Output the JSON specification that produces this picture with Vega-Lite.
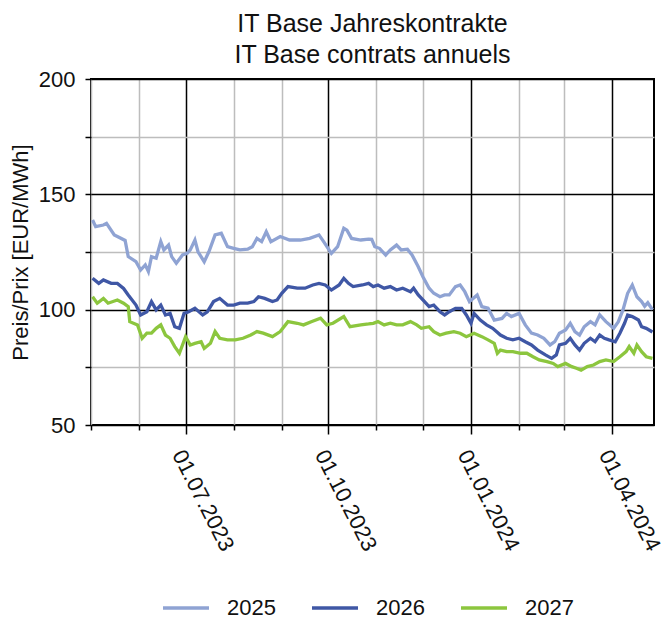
{
 "$schema": "https://vega.github.io/schema/vega-lite/v6.json",
 "width": 563,
 "height": 346,
 "autosize": {"type": "none"},
 "padding": {"left": 91, "top": 79, "right": 12, "bottom": 196},
 "title": {"text": ["IT Base Jahreskontrakte", "IT Base contrats annuels"], "fontSize": 25, "fontWeight": "normal", "font": "Liberation Sans", "color": "#111", "anchor": "middle", "frame": "group", "lineHeight": 31, "offset": 0},
 "data": {"values": [
  {"d":"2023-05-02","s":"2025","v":138.9},{"d":"2023-05-04","s":"2025","v":136.0},{"d":"2023-05-09","s":"2025","v":136.7},{"d":"2023-05-11","s":"2025","v":137.4},{"d":"2023-05-16","s":"2025","v":132.4},{"d":"2023-05-18","s":"2025","v":131.7},{"d":"2023-05-23","s":"2025","v":130.0},{"d":"2023-05-25","s":"2025","v":123.0},{"d":"2023-05-30","s":"2025","v":120.8},{"d":"2023-06-02","s":"2025","v":117.2},{"d":"2023-06-05","s":"2025","v":119.4},{"d":"2023-06-07","s":"2025","v":116.5},{"d":"2023-06-09","s":"2025","v":123.0},{"d":"2023-06-12","s":"2025","v":122.3},{"d":"2023-06-15","s":"2025","v":129.5},{"d":"2023-06-17","s":"2025","v":125.9},{"d":"2023-06-20","s":"2025","v":128.0},{"d":"2023-06-22","s":"2025","v":123.0},{"d":"2023-06-25","s":"2025","v":120.1},{"d":"2023-06-29","s":"2025","v":123.7},{"d":"2023-07-02","s":"2025","v":124.4},{"d":"2023-07-04","s":"2025","v":125.9},{"d":"2023-07-07","s":"2025","v":130.2},{"d":"2023-07-09","s":"2025","v":125.1},{"d":"2023-07-13","s":"2025","v":120.8},{"d":"2023-07-16","s":"2025","v":125.1},{"d":"2023-07-20","s":"2025","v":132.4},{"d":"2023-07-24","s":"2025","v":133.1},{"d":"2023-07-28","s":"2025","v":127.3},{"d":"2023-08-01","s":"2025","v":126.6},{"d":"2023-08-05","s":"2025","v":125.9},{"d":"2023-08-10","s":"2025","v":126.2},{"d":"2023-08-13","s":"2025","v":127.3},{"d":"2023-08-16","s":"2025","v":130.9},{"d":"2023-08-19","s":"2025","v":129.5},{"d":"2023-08-22","s":"2025","v":133.8},{"d":"2023-08-25","s":"2025","v":129.5},{"d":"2023-08-31","s":"2025","v":131.7},{"d":"2023-09-06","s":"2025","v":130.2},{"d":"2023-09-13","s":"2025","v":130.2},{"d":"2023-09-19","s":"2025","v":130.9},{"d":"2023-09-25","s":"2025","v":132.4},{"d":"2023-09-28","s":"2025","v":129.5},{"d":"2023-10-03","s":"2025","v":124.4},{"d":"2023-10-07","s":"2025","v":127.3},{"d":"2023-10-11","s":"2025","v":135.3},{"d":"2023-10-13","s":"2025","v":134.5},{"d":"2023-10-16","s":"2025","v":130.9},{"d":"2023-10-22","s":"2025","v":130.2},{"d":"2023-10-27","s":"2025","v":130.6},{"d":"2023-10-29","s":"2025","v":130.5},{"d":"2023-10-31","s":"2025","v":127.3},{"d":"2023-11-03","s":"2025","v":126.6},{"d":"2023-11-07","s":"2025","v":123.7},{"d":"2023-11-10","s":"2025","v":125.9},{"d":"2023-11-14","s":"2025","v":128.0},{"d":"2023-11-17","s":"2025","v":125.9},{"d":"2023-11-21","s":"2025","v":126.2},{"d":"2023-11-24","s":"2025","v":123.7},{"d":"2023-11-28","s":"2025","v":118.6},{"d":"2023-12-01","s":"2025","v":114.3},{"d":"2023-12-05","s":"2025","v":109.3},{"d":"2023-12-08","s":"2025","v":107.1},{"d":"2023-12-12","s":"2025","v":105.6},{"d":"2023-12-15","s":"2025","v":106.4},{"d":"2023-12-18","s":"2025","v":106.4},{"d":"2023-12-22","s":"2025","v":110.0},{"d":"2023-12-25","s":"2025","v":110.7},{"d":"2023-12-28","s":"2025","v":107.8},{"d":"2023-12-31","s":"2025","v":103.5},{"d":"2024-01-05","s":"2025","v":106.4},{"d":"2024-01-08","s":"2025","v":101.3},{"d":"2024-01-12","s":"2025","v":100.6},{"d":"2024-01-16","s":"2025","v":95.5},{"d":"2024-01-21","s":"2025","v":96.2},{"d":"2024-01-24","s":"2025","v":98.4},{"d":"2024-01-27","s":"2025","v":97.0},{"d":"2024-02-01","s":"2025","v":98.4},{"d":"2024-02-05","s":"2025","v":93.4},{"d":"2024-02-09","s":"2025","v":89.8},{"d":"2024-02-13","s":"2025","v":89.0},{"d":"2024-02-17","s":"2025","v":87.6},{"d":"2024-02-21","s":"2025","v":84.7},{"d":"2024-02-24","s":"2025","v":86.1},{"d":"2024-02-27","s":"2025","v":89.8},{"d":"2024-03-02","s":"2025","v":91.2},{"d":"2024-03-05","s":"2025","v":94.1},{"d":"2024-03-08","s":"2025","v":90.5},{"d":"2024-03-11","s":"2025","v":89.0},{"d":"2024-03-14","s":"2025","v":92.6},{"d":"2024-03-18","s":"2025","v":94.8},{"d":"2024-03-21","s":"2025","v":93.4},{"d":"2024-03-24","s":"2025","v":97.7},{"d":"2024-03-28","s":"2025","v":94.8},{"d":"2024-04-02","s":"2025","v":91.9},{"d":"2024-04-05","s":"2025","v":94.8},{"d":"2024-04-08","s":"2025","v":99.9},{"d":"2024-04-11","s":"2025","v":107.1},{"d":"2024-04-14","s":"2025","v":110.7},{"d":"2024-04-17","s":"2025","v":105.6},{"d":"2024-04-20","s":"2025","v":103.5},{"d":"2024-04-22","s":"2025","v":101.5},{"d":"2024-04-24","s":"2025","v":103.0},{"d":"2024-04-27","s":"2025","v":100.0},
  {"d":"2023-05-02","s":"2026","v":113.6},{"d":"2023-05-06","s":"2026","v":111.4},{"d":"2023-05-09","s":"2026","v":112.9},{"d":"2023-05-14","s":"2026","v":111.4},{"d":"2023-05-18","s":"2026","v":111.4},{"d":"2023-05-22","s":"2026","v":109.2},{"d":"2023-05-25","s":"2026","v":106.4},{"d":"2023-05-30","s":"2026","v":102.0},{"d":"2023-06-02","s":"2026","v":97.7},{"d":"2023-06-06","s":"2026","v":99.1},{"d":"2023-06-09","s":"2026","v":103.5},{"d":"2023-06-12","s":"2026","v":99.9},{"d":"2023-06-15","s":"2026","v":102.0},{"d":"2023-06-18","s":"2026","v":97.7},{"d":"2023-06-21","s":"2026","v":98.4},{"d":"2023-06-24","s":"2026","v":92.6},{"d":"2023-06-27","s":"2026","v":91.9},{"d":"2023-06-30","s":"2026","v":98.4},{"d":"2023-07-03","s":"2026","v":99.1},{"d":"2023-07-07","s":"2026","v":100.6},{"d":"2023-07-12","s":"2026","v":97.7},{"d":"2023-07-15","s":"2026","v":99.1},{"d":"2023-07-19","s":"2026","v":103.5},{"d":"2023-07-23","s":"2026","v":104.9},{"d":"2023-07-28","s":"2026","v":102.0},{"d":"2023-08-01","s":"2026","v":102.0},{"d":"2023-08-05","s":"2026","v":102.8},{"d":"2023-08-10","s":"2026","v":102.8},{"d":"2023-08-14","s":"2026","v":103.5},{"d":"2023-08-17","s":"2026","v":105.6},{"d":"2023-08-21","s":"2026","v":104.9},{"d":"2023-08-26","s":"2026","v":103.5},{"d":"2023-08-29","s":"2026","v":104.2},{"d":"2023-09-01","s":"2026","v":107.1},{"d":"2023-09-05","s":"2026","v":110.0},{"d":"2023-09-11","s":"2026","v":109.3},{"d":"2023-09-16","s":"2026","v":109.3},{"d":"2023-09-21","s":"2026","v":110.7},{"d":"2023-09-25","s":"2026","v":111.4},{"d":"2023-09-29","s":"2026","v":110.7},{"d":"2023-10-03","s":"2026","v":108.5},{"d":"2023-10-08","s":"2026","v":110.7},{"d":"2023-10-11","s":"2026","v":113.6},{"d":"2023-10-14","s":"2026","v":111.4},{"d":"2023-10-17","s":"2026","v":110.0},{"d":"2023-10-23","s":"2026","v":110.7},{"d":"2023-10-27","s":"2026","v":111.4},{"d":"2023-10-30","s":"2026","v":110.0},{"d":"2023-11-02","s":"2026","v":110.7},{"d":"2023-11-06","s":"2026","v":109.3},{"d":"2023-11-10","s":"2026","v":110.0},{"d":"2023-11-14","s":"2026","v":108.5},{"d":"2023-11-18","s":"2026","v":109.3},{"d":"2023-11-23","s":"2026","v":107.8},{"d":"2023-11-25","s":"2026","v":109.3},{"d":"2023-11-28","s":"2026","v":106.4},{"d":"2023-12-01","s":"2026","v":104.2},{"d":"2023-12-05","s":"2026","v":101.3},{"d":"2023-12-08","s":"2026","v":102.0},{"d":"2023-12-12","s":"2026","v":99.1},{"d":"2023-12-15","s":"2026","v":97.7},{"d":"2023-12-18","s":"2026","v":99.1},{"d":"2023-12-22","s":"2026","v":100.6},{"d":"2023-12-26","s":"2026","v":100.6},{"d":"2023-12-29","s":"2026","v":97.7},{"d":"2024-01-01","s":"2026","v":94.1},{"d":"2024-01-03","s":"2026","v":98.4},{"d":"2024-01-07","s":"2026","v":95.5},{"d":"2024-01-11","s":"2026","v":93.4},{"d":"2024-01-15","s":"2026","v":91.9},{"d":"2024-01-20","s":"2026","v":89.0},{"d":"2024-01-24","s":"2026","v":87.6},{"d":"2024-01-28","s":"2026","v":86.9},{"d":"2024-02-01","s":"2026","v":87.6},{"d":"2024-02-05","s":"2026","v":86.1},{"d":"2024-02-09","s":"2026","v":84.7},{"d":"2024-02-13","s":"2026","v":82.5},{"d":"2024-02-18","s":"2026","v":80.4},{"d":"2024-02-22","s":"2026","v":78.9},{"d":"2024-02-25","s":"2026","v":80.4},{"d":"2024-02-27","s":"2026","v":84.7},{"d":"2024-03-02","s":"2026","v":85.4},{"d":"2024-03-05","s":"2026","v":87.6},{"d":"2024-03-08","s":"2026","v":84.7},{"d":"2024-03-11","s":"2026","v":82.5},{"d":"2024-03-14","s":"2026","v":85.4},{"d":"2024-03-18","s":"2026","v":87.6},{"d":"2024-03-21","s":"2026","v":86.1},{"d":"2024-03-24","s":"2026","v":89.0},{"d":"2024-03-27","s":"2026","v":87.6},{"d":"2024-03-30","s":"2026","v":86.9},{"d":"2024-04-03","s":"2026","v":86.1},{"d":"2024-04-06","s":"2026","v":89.8},{"d":"2024-04-09","s":"2026","v":94.1},{"d":"2024-04-11","s":"2026","v":97.7},{"d":"2024-04-14","s":"2026","v":97.0},{"d":"2024-04-18","s":"2026","v":95.5},{"d":"2024-04-20","s":"2026","v":92.6},{"d":"2024-04-23","s":"2026","v":91.9},{"d":"2024-04-27","s":"2026","v":90.3},
  {"d":"2023-05-02","s":"2027","v":105.6},{"d":"2023-05-05","s":"2027","v":102.8},{"d":"2023-05-09","s":"2027","v":104.9},{"d":"2023-05-12","s":"2027","v":102.8},{"d":"2023-05-18","s":"2027","v":104.2},{"d":"2023-05-22","s":"2027","v":102.8},{"d":"2023-05-25","s":"2027","v":101.3},{"d":"2023-05-26","s":"2027","v":94.8},{"d":"2023-05-31","s":"2027","v":93.4},{"d":"2023-06-03","s":"2027","v":87.6},{"d":"2023-06-06","s":"2027","v":89.8},{"d":"2023-06-09","s":"2027","v":89.8},{"d":"2023-06-12","s":"2027","v":91.9},{"d":"2023-06-15","s":"2027","v":93.4},{"d":"2023-06-18","s":"2027","v":89.0},{"d":"2023-06-21","s":"2027","v":87.6},{"d":"2023-06-24","s":"2027","v":84.0},{"d":"2023-06-27","s":"2027","v":81.1},{"d":"2023-07-01","s":"2027","v":88.3},{"d":"2023-07-04","s":"2027","v":84.7},{"d":"2023-07-07","s":"2027","v":85.4},{"d":"2023-07-11","s":"2027","v":86.1},{"d":"2023-07-13","s":"2027","v":83.2},{"d":"2023-07-17","s":"2027","v":85.4},{"d":"2023-07-20","s":"2027","v":90.5},{"d":"2023-07-23","s":"2027","v":87.6},{"d":"2023-07-28","s":"2027","v":86.9},{"d":"2023-08-02","s":"2027","v":86.9},{"d":"2023-08-07","s":"2027","v":87.6},{"d":"2023-08-12","s":"2027","v":89.0},{"d":"2023-08-16","s":"2027","v":90.5},{"d":"2023-08-20","s":"2027","v":89.8},{"d":"2023-08-26","s":"2027","v":88.3},{"d":"2023-08-31","s":"2027","v":90.5},{"d":"2023-09-05","s":"2027","v":94.8},{"d":"2023-09-11","s":"2027","v":94.1},{"d":"2023-09-15","s":"2027","v":93.4},{"d":"2023-09-20","s":"2027","v":94.8},{"d":"2023-09-26","s":"2027","v":96.3},{"d":"2023-09-30","s":"2027","v":93.4},{"d":"2023-10-04","s":"2027","v":94.1},{"d":"2023-10-11","s":"2027","v":97.0},{"d":"2023-10-15","s":"2027","v":92.6},{"d":"2023-10-22","s":"2027","v":93.4},{"d":"2023-10-27","s":"2027","v":93.8},{"d":"2023-10-30","s":"2027","v":94.1},{"d":"2023-11-02","s":"2027","v":94.8},{"d":"2023-11-06","s":"2027","v":93.4},{"d":"2023-11-10","s":"2027","v":94.1},{"d":"2023-11-14","s":"2027","v":93.4},{"d":"2023-11-18","s":"2027","v":93.4},{"d":"2023-11-23","s":"2027","v":94.8},{"d":"2023-11-27","s":"2027","v":93.4},{"d":"2023-11-30","s":"2027","v":91.9},{"d":"2023-12-05","s":"2027","v":92.6},{"d":"2023-12-08","s":"2027","v":90.5},{"d":"2023-12-12","s":"2027","v":89.0},{"d":"2023-12-16","s":"2027","v":89.8},{"d":"2023-12-21","s":"2027","v":90.5},{"d":"2023-12-25","s":"2027","v":89.8},{"d":"2023-12-29","s":"2027","v":88.3},{"d":"2024-01-03","s":"2027","v":89.8},{"d":"2024-01-08","s":"2027","v":88.3},{"d":"2024-01-12","s":"2027","v":86.9},{"d":"2024-01-16","s":"2027","v":85.4},{"d":"2024-01-18","s":"2027","v":81.1},{"d":"2024-01-20","s":"2027","v":82.5},{"d":"2024-01-24","s":"2027","v":81.8},{"d":"2024-01-28","s":"2027","v":81.8},{"d":"2024-02-02","s":"2027","v":81.1},{"d":"2024-02-06","s":"2027","v":81.1},{"d":"2024-02-10","s":"2027","v":79.6},{"d":"2024-02-14","s":"2027","v":78.2},{"d":"2024-02-19","s":"2027","v":77.5},{"d":"2024-02-23","s":"2027","v":76.7},{"d":"2024-02-26","s":"2027","v":75.3},{"d":"2024-03-02","s":"2027","v":76.7},{"d":"2024-03-06","s":"2027","v":75.3},{"d":"2024-03-09","s":"2027","v":74.6},{"d":"2024-03-12","s":"2027","v":73.8},{"d":"2024-03-16","s":"2027","v":75.3},{"d":"2024-03-20","s":"2027","v":76.0},{"d":"2024-03-24","s":"2027","v":77.5},{"d":"2024-03-28","s":"2027","v":78.2},{"d":"2024-04-02","s":"2027","v":77.5},{"d":"2024-04-06","s":"2027","v":79.6},{"d":"2024-04-10","s":"2027","v":81.8},{"d":"2024-04-12","s":"2027","v":84.0},{"d":"2024-04-15","s":"2027","v":81.1},{"d":"2024-04-17","s":"2027","v":84.7},{"d":"2024-04-20","s":"2027","v":81.8},{"d":"2024-04-23","s":"2027","v":79.6},{"d":"2024-04-27","s":"2027","v":78.9}
 ]},
 "mark": {"type": "line", "strokeWidth": 3.3, "clip": true},
 "encoding": {
  "x": {"field": "d", "type": "temporal",
   "scale": {"type": "utc", "domain": [{"year": 2023, "month": 5, "date": 1, "utc": true}, {"year": 2024, "month": 4, "date": 28, "utc": true}]},
   "axis": {"title": null,
    "values": [{"year":2023,"month":5,"date":1,"utc":true},{"year":2023,"month":6,"date":1,"utc":true},{"year":2023,"month":7,"date":1,"utc":true},{"year":2023,"month":8,"date":1,"utc":true},{"year":2023,"month":9,"date":1,"utc":true},{"year":2023,"month":10,"date":1,"utc":true},{"year":2023,"month":11,"date":1,"utc":true},{"year":2023,"month":12,"date":1,"utc":true},{"year":2024,"month":1,"date":1,"utc":true},{"year":2024,"month":2,"date":1,"utc":true},{"year":2024,"month":3,"date":1,"utc":true},{"year":2024,"month":4,"date":1,"utc":true}],
    "labelExpr": "indexof([0,3,6,9], utcmonth(datum.value)) >= 0 ? utcFormat(datum.value, '%d.%m.%Y') : ''",
    "labelAngle": 63, "labelAlign": "left", "labelBaseline": "middle", "labelFontSize": 22, "labelPadding": 17, "labelOffset": -8,
    "labelOverlap": false, "labelFlush": false, "labelBound": false,
    "grid": true,
    "gridColor": {"condition": {"test": "indexof([0,3,6,9], utcmonth(datum.value)) >= 0", "value": "#000000"}, "value": "#bdbdbd"},
    "gridWidth": 1.5,
    "tickColor": "#000000",
    "tickSize": {"condition": {"test": "indexof([0,3,6,9], utcmonth(datum.value)) >= 0", "value": 9}, "value": 5},
    "tickWidth": 1.5, "domain": false}},
  "y": {"field": "v", "type": "quantitative",
   "scale": {"domain": [50, 200], "nice": false, "zero": false},
   "axis": {"title": "Preis/Prix [EUR/MWh]", "values": [50, 75, 100, 125, 150, 175, 200],
    "labelExpr": "datum.value % 50 === 0 ? datum.label : ''",
    "labelFontSize": 22, "labelPadding": 10,
    "grid": true,
    "gridColor": {"condition": {"test": "datum.value % 50 === 0", "value": "#000000"}, "value": "#bdbdbd"},
    "gridWidth": 1.5, "tickSize": 6, "tickColor": "#000000", "tickWidth": 1.5, "domain": false,
    "titleFontSize": 22, "titleFontWeight": "normal", "titlePadding": 6}},
  "color": {"field": "s", "type": "nominal",
   "scale": {"domain": ["2025", "2026", "2027"], "range": ["#8fa3d3", "#3f57a5", "#8cc63e"]},
   "legend": {"title": null, "orient": "none", "direction": "horizontal", "legendX": 70, "legendY": 504,
    "symbolType": "stroke", "symbolSize": 2116, "symbolStrokeWidth": 3.5, "labelFontSize": 22, "labelOffset": 16, "columnPadding": 29}}
 },
 "config": {
  "font": "Liberation Sans",
  "view": {"stroke": "#000000", "strokeWidth": 2},
  "axis": {"labelColor": "#111111", "titleColor": "#111111"},
  "legend": {"labelColor": "#111111"}
 }
}
